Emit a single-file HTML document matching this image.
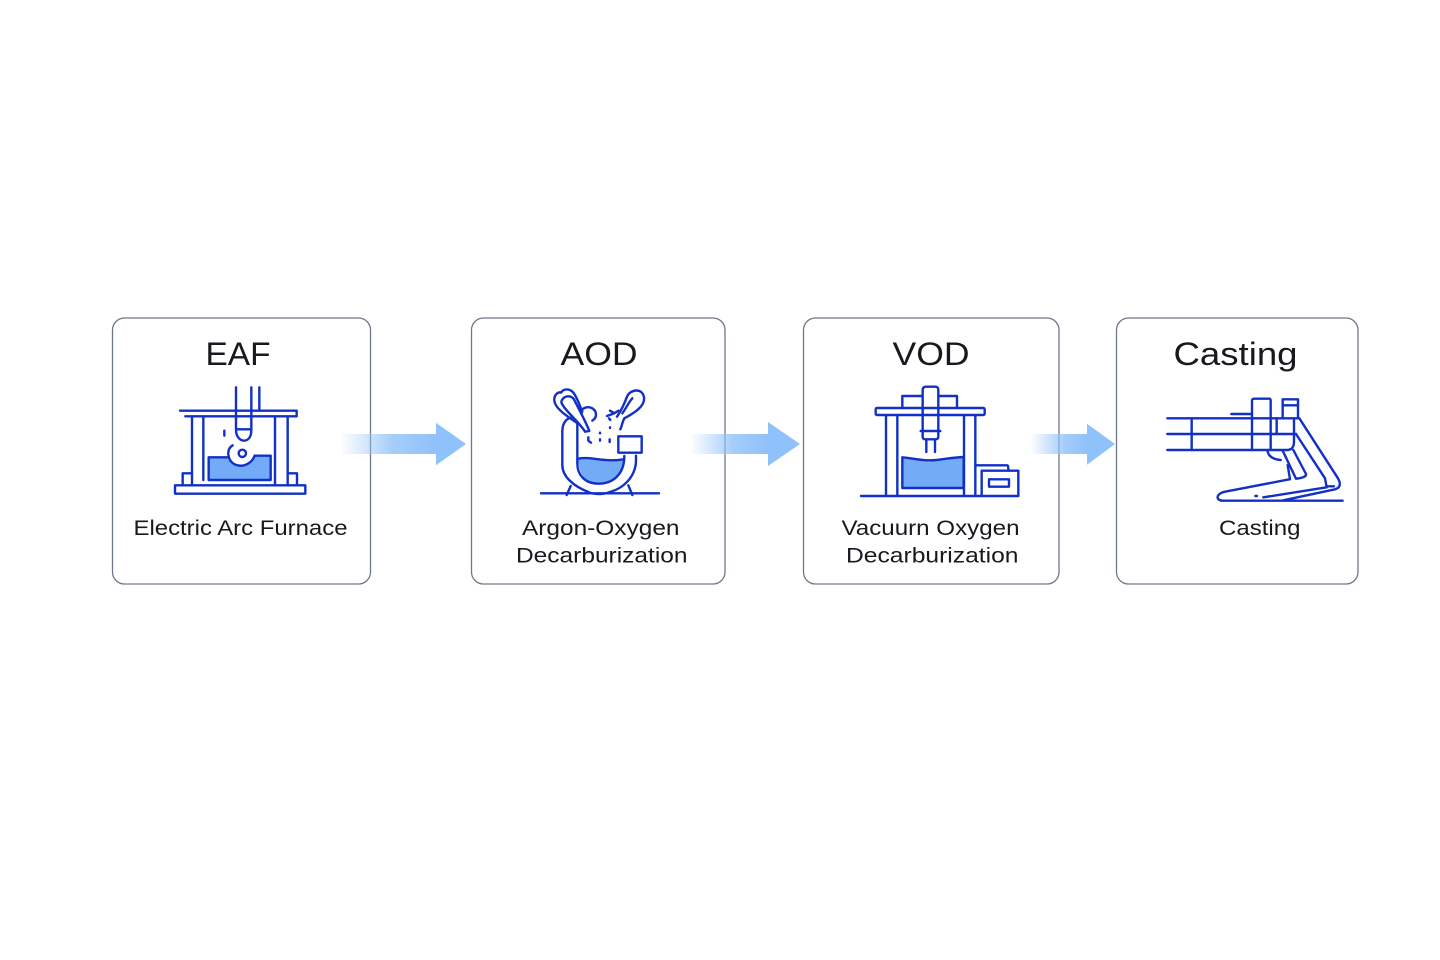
<!DOCTYPE html>
<html lang="en"><head><meta charset="utf-8"><title>Steelmaking process</title>
<style>html,body{margin:0;padding:0;background:#fff}svg{display:block}
text{font-family:"Liberation Sans",sans-serif;fill:#17191f}
.ic{fill:none;stroke:#1230c6;stroke-width:7.2;stroke-linecap:round;stroke-linejoin:round}
.m{fill:#74abf6;stroke:none}
.c{fill:#fff;stroke:#6f7888;stroke-width:1.3}
</style></head><body>
<svg width="1440" height="960" viewBox="0 0 1440 960" xmlns="http://www.w3.org/2000/svg">
<defs>
<linearGradient id="g1" gradientUnits="userSpaceOnUse" x1="340" x2="436" y1="0" y2="0"><stop offset="0" stop-color="#8fc1fa" stop-opacity="0"/><stop offset=".55" stop-color="#8fc1fa" stop-opacity=".8"/><stop offset="1" stop-color="#8fc1fa"/></linearGradient>
<linearGradient id="g2" gradientUnits="userSpaceOnUse" x1="690" x2="768" y1="0" y2="0"><stop offset="0" stop-color="#8fc1fa" stop-opacity="0"/><stop offset=".55" stop-color="#8fc1fa" stop-opacity=".8"/><stop offset="1" stop-color="#8fc1fa"/></linearGradient>
<linearGradient id="g3" gradientUnits="userSpaceOnUse" x1="1030" x2="1087" y1="0" y2="0"><stop offset="0" stop-color="#8fc1fa" stop-opacity="0"/><stop offset=".6" stop-color="#8fc1fa" stop-opacity=".8"/><stop offset="1" stop-color="#8fc1fa"/></linearGradient>
</defs>
<rect x="112.500" y="318" width="258" height="266" rx="12" class="c"/>
<rect x="471.500" y="318" width="253.500" height="266" rx="12" class="c"/>
<rect x="803.500" y="318" width="255.500" height="266" rx="12" class="c"/>
<rect x="1116.500" y="318" width="241.500" height="266" rx="12" class="c"/>

<path d="M340 434H436V422.700L466 444L436 465.300V454H340Z" fill="url(#g1)"/>
<path d="M690 434H768V422L800 444L768 466V454H690Z" fill="url(#g2)"/>
<path d="M1030 434H1087V423.700L1115 444L1087 464.700V454H1030Z" fill="url(#g3)"/>

<text x="205.500" y="365" font-size="32" textLength="65" lengthAdjust="spacingAndGlyphs">EAF</text>
<text x="560.500" y="365" font-size="32" textLength="77" lengthAdjust="spacingAndGlyphs">AOD</text>
<text x="892.500" y="365" font-size="32" textLength="77" lengthAdjust="spacingAndGlyphs">VOD</text>
<text x="1173.500" y="365" font-size="32" textLength="124" lengthAdjust="spacingAndGlyphs">Casting</text>
<text x="133.500" y="535" font-size="21.500" textLength="214" lengthAdjust="spacingAndGlyphs">Electric Arc Furnace</text>
<text x="522" y="535" font-size="21.500" textLength="157.500" lengthAdjust="spacingAndGlyphs">Argon-Oxygen</text>
<text x="516" y="562.500" font-size="21.500" textLength="171.500" lengthAdjust="spacingAndGlyphs">Decarburization</text>
<text x="841.500" y="535" font-size="21.500" textLength="178" lengthAdjust="spacingAndGlyphs">Vacuurn Oxygen</text>
<text x="846" y="562.500" font-size="21.500" textLength="172.500" lengthAdjust="spacingAndGlyphs">Decarburization</text>
<text x="1219" y="535" font-size="21.500" textLength="81.500" lengthAdjust="spacingAndGlyphs">Casting</text>

<!-- EAF icon -->
<g transform="translate(170 380) scale(.33333)">
<path class="m" d="M116 232H172C178 250 200 262 222 258C240 254 248 240 254 227H302V300H116Z"/>
<g class="ic">
<path d="M30 92H380V109H46"/>
<path d="M198 22V150C198 172 212 182 222 182C234 182 244 172 244 150V22M268 22V92M198 148H244"/>
<path d="M66 110V315M100 110V300M315 110V315M353 110V315"/>
<rect x="15" y="316" width="391" height="25"/>
<path d="M66 280H38V316M353 280H381V316"/>
<path d="M116 232H172M254 227H302V300H116V232"/>
<path d="M188 196C168 208 172 240 192 252C214 264 244 254 254 227"/>
<circle cx="217" cy="220" r="11"/>
<path d="M163 152V167"/>
</g></g>

<!-- AOD icon -->
<g transform="translate(535 380) scale(.33333)">
<path class="m" d="M130 236C165 228 210 248 266 238C266 280 232 312 192 312C155 312 130 285 130 236Z"/>
<g class="ic">
<path d="M108 112C90 118 82 132 82 155V255C82 290 115 318 160 336C175 344 205 344 225 336C265 325 303 290 303 240V227"/>
<path d="M127 132V250C127 285 150 311 190 311C232 311 268 285 268 228"/>
<path d="M130 236C165 228 210 248 266 238"/>
<path d="M125 128C95 108 60 85 58 62C56 42 72 35 78 38C85 25 105 25 115 38C128 55 135 80 142 95"/>
<path d="M80 62C88 45 110 45 118 60C130 85 150 120 163 153L150 155C135 130 95 95 85 78C80 70 78 68 80 62Z"/>
<path d="M140 102C135 85 155 78 170 84C186 92 188 112 172 122"/>
<path d="M246 110C258 92 268 72 276 50C285 28 322 22 327 52C331 80 295 100 268 115C262 125 262 135 256 148"/>
<path d="M262 100C275 82 282 65 292 55"/>
<path d="M216 108C225 105 240 100 250 92M225 92L238 100M222 115L226 120"/>
<path d="M160 172V182L168 188M195 158V160M195 178V182M225 142V144M224 178V186"/>
<rect x="250" y="169" width="70" height="49"/>
<path d="M18 340H372M95 345L107 318M292 345L280 316"/>
</g></g>

<!-- VOD icon -->
<g transform="translate(855 380) scale(.33333)">
<path class="m" d="M142 232C180 236 210 244 245 240C275 236 300 232 326 231V324H142Z"/>
<g class="ic">
<rect x="62" y="84" width="327" height="21" rx="4"/>
<path d="M142 82V48H202M250 48H306V82"/>
<path d="M203 150V30C203 22 208 20 214 20H240C246 20 250 22 250 30V150"/>
<path d="M197 153H256M203 153V170C203 176 206 178 212 178H240C246 178 250 176 250 170V153"/>
<path d="M214 180V216M240 180V216"/>
<path d="M93 106V347M127 106V347M327 106V347M361 106V347"/>
<path d="M18 348H490"/>
<path d="M142 232C180 236 210 244 245 240C275 236 300 232 326 231V324H142Z"/>
<path d="M361 256H456C460 256 460 264 460 272"/>
<path d="M380 347V272H490V347"/>
<rect x="402" y="298" width="60" height="22"/>
</g></g>

<!-- Casting icon -->
<g transform="translate(1160 390) scale(.33333)">
<g class="ic">
<path d="M22 85H418M22 132H408M22 180H382C396 180 402 170 402 155V85"/>
<path d="M95 85V180M276 180V32C276 28 278 26 282 26H328C332 26 332 30 332 34V180"/>
<path d="M214 72H274M350 85V130"/>
<path d="M368 85V28H414V85M368 46H414"/>
<path d="M322 180C324 198 338 208 362 210"/>
<path d="M368 182L408 266M400 180L438 252C440 260 425 264 408 266M383 225L390 268"/>
<path d="M418 85L532 262C545 282 540 294 525 298L370 331"/>
<path d="M408 132L495 265L500 292L310 322M500 289H522"/>
<path d="M388 268L195 305C168 310 165 332 190 332H548"/>
<path d="M286 318H291"/>
</g></g>
</svg>
</body></html>
